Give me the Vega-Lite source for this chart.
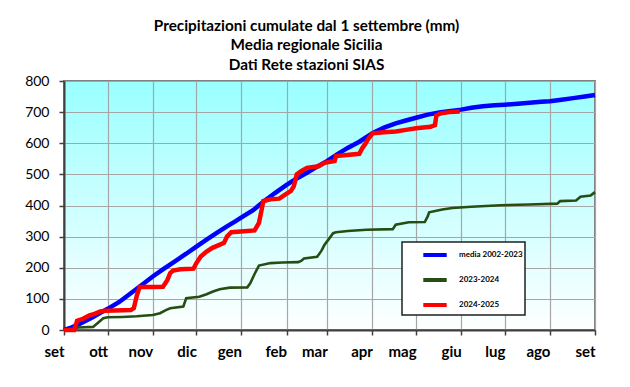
{
  "$schema": "https://vega.github.io/schema/vega-lite/v6.json",
  "width": 531,
  "height": 249,
  "autosize": "none",
  "padding": {"left": 64, "top": 81, "right": 35, "bottom": 57},
  "background": "white",
  "title": {
    "text": ["Precipitazioni cumulate dal 1 settembre (mm)", "Media regionale Sicilia", "Dati Rete stazioni SIAS"],
    "font": "Lato", "fontSize": 15.3, "fontWeight": "bold", "color": "black",
    "lineHeight": 19.5, "offset": 1, "dx": -23, "anchor": "middle"
  },
  "config": {
    "font": "Lato",
    "view": {
      "fill": {"gradient": "linear", "x1": 0, "y1": 0, "x2": 0, "y2": 1,
        "stops": [{"offset": 0, "color": "#99FFFF"}, {"offset": 1, "color": "#FFFFFF"}]},
      "stroke": "#808080", "strokeWidth": 2
    },
    "axis": {
      "gridColor": "#A6A6A6", "gridWidth": 1.2, "gridOpacity": 1,
      "domainColor": "#404040", "domainWidth": 2,
      "tickColor": "#404040", "tickWidth": 1.5, "tickSize": 5,
      "labelColor": "black", "title": null
    }
  },
  "data": {"values": [
    {"s": "media 2002-2023", "d": 0, "v": 0},
    {"s": "media 2002-2023", "d": 5, "v": 8},
    {"s": "media 2002-2023", "d": 10, "v": 18},
    {"s": "media 2002-2023", "d": 15, "v": 30},
    {"s": "media 2002-2023", "d": 20, "v": 42},
    {"s": "media 2002-2023", "d": 25, "v": 55},
    {"s": "media 2002-2023", "d": 30, "v": 68},
    {"s": "media 2002-2023", "d": 38, "v": 90},
    {"s": "media 2002-2023", "d": 45, "v": 115},
    {"s": "media 2002-2023", "d": 53, "v": 143},
    {"s": "media 2002-2023", "d": 61, "v": 172},
    {"s": "media 2002-2023", "d": 68, "v": 195},
    {"s": "media 2002-2023", "d": 76, "v": 220},
    {"s": "media 2002-2023", "d": 84, "v": 245},
    {"s": "media 2002-2023", "d": 91, "v": 268},
    {"s": "media 2002-2023", "d": 98, "v": 290},
    {"s": "media 2002-2023", "d": 105, "v": 312},
    {"s": "media 2002-2023", "d": 112, "v": 333},
    {"s": "media 2002-2023", "d": 118, "v": 350},
    {"s": "media 2002-2023", "d": 122, "v": 362},
    {"s": "media 2002-2023", "d": 130, "v": 385},
    {"s": "media 2002-2023", "d": 137, "v": 412},
    {"s": "media 2002-2023", "d": 145, "v": 440},
    {"s": "media 2002-2023", "d": 153, "v": 466},
    {"s": "media 2002-2023", "d": 160, "v": 487},
    {"s": "media 2002-2023", "d": 167, "v": 505},
    {"s": "media 2002-2023", "d": 174, "v": 525},
    {"s": "media 2002-2023", "d": 181, "v": 543},
    {"s": "media 2002-2023", "d": 188, "v": 565},
    {"s": "media 2002-2023", "d": 195, "v": 585},
    {"s": "media 2002-2023", "d": 203, "v": 605},
    {"s": "media 2002-2023", "d": 212, "v": 632},
    {"s": "media 2002-2023", "d": 220, "v": 650},
    {"s": "media 2002-2023", "d": 228, "v": 664},
    {"s": "media 2002-2023", "d": 235, "v": 673},
    {"s": "media 2002-2023", "d": 242, "v": 682},
    {"s": "media 2002-2023", "d": 250, "v": 692},
    {"s": "media 2002-2023", "d": 258, "v": 699},
    {"s": "media 2002-2023", "d": 266, "v": 704},
    {"s": "media 2002-2023", "d": 273, "v": 708},
    {"s": "media 2002-2023", "d": 280, "v": 714},
    {"s": "media 2002-2023", "d": 288, "v": 719},
    {"s": "media 2002-2023", "d": 296, "v": 722},
    {"s": "media 2002-2023", "d": 303, "v": 724},
    {"s": "media 2002-2023", "d": 312, "v": 727},
    {"s": "media 2002-2023", "d": 320, "v": 730},
    {"s": "media 2002-2023", "d": 328, "v": 733},
    {"s": "media 2002-2023", "d": 334, "v": 735},
    {"s": "media 2002-2023", "d": 342, "v": 740},
    {"s": "media 2002-2023", "d": 350, "v": 745},
    {"s": "media 2002-2023", "d": 358, "v": 750},
    {"s": "media 2002-2023", "d": 365, "v": 755},

    {"s": "2023-2024", "d": 0, "v": 0},
    {"s": "2023-2024", "d": 4, "v": 0},
    {"s": "2023-2024", "d": 6, "v": 5},
    {"s": "2023-2024", "d": 10, "v": 8},
    {"s": "2023-2024", "d": 20, "v": 10},
    {"s": "2023-2024", "d": 23, "v": 22},
    {"s": "2023-2024", "d": 27, "v": 38},
    {"s": "2023-2024", "d": 30, "v": 41},
    {"s": "2023-2024", "d": 40, "v": 42},
    {"s": "2023-2024", "d": 50, "v": 44},
    {"s": "2023-2024", "d": 61, "v": 48},
    {"s": "2023-2024", "d": 66, "v": 54},
    {"s": "2023-2024", "d": 70, "v": 64},
    {"s": "2023-2024", "d": 73, "v": 70},
    {"s": "2023-2024", "d": 82, "v": 75},
    {"s": "2023-2024", "d": 84, "v": 102},
    {"s": "2023-2024", "d": 93, "v": 107},
    {"s": "2023-2024", "d": 98, "v": 115},
    {"s": "2023-2024", "d": 102, "v": 123},
    {"s": "2023-2024", "d": 107, "v": 131},
    {"s": "2023-2024", "d": 114, "v": 136},
    {"s": "2023-2024", "d": 126, "v": 137},
    {"s": "2023-2024", "d": 128, "v": 150},
    {"s": "2023-2024", "d": 131, "v": 180},
    {"s": "2023-2024", "d": 134, "v": 207},
    {"s": "2023-2024", "d": 142, "v": 215},
    {"s": "2023-2024", "d": 150, "v": 217},
    {"s": "2023-2024", "d": 161, "v": 218},
    {"s": "2023-2024", "d": 163, "v": 222},
    {"s": "2023-2024", "d": 165, "v": 230},
    {"s": "2023-2024", "d": 174, "v": 235},
    {"s": "2023-2024", "d": 177, "v": 255},
    {"s": "2023-2024", "d": 179, "v": 273},
    {"s": "2023-2024", "d": 182, "v": 292},
    {"s": "2023-2024", "d": 185, "v": 311},
    {"s": "2023-2024", "d": 187, "v": 314},
    {"s": "2023-2024", "d": 195, "v": 318},
    {"s": "2023-2024", "d": 208, "v": 322},
    {"s": "2023-2024", "d": 226, "v": 324},
    {"s": "2023-2024", "d": 228, "v": 338},
    {"s": "2023-2024", "d": 237, "v": 346},
    {"s": "2023-2024", "d": 248, "v": 347},
    {"s": "2023-2024", "d": 250, "v": 365},
    {"s": "2023-2024", "d": 251, "v": 378},
    {"s": "2023-2024", "d": 260, "v": 387},
    {"s": "2023-2024", "d": 267, "v": 392},
    {"s": "2023-2024", "d": 280, "v": 396},
    {"s": "2023-2024", "d": 300, "v": 401},
    {"s": "2023-2024", "d": 320, "v": 403},
    {"s": "2023-2024", "d": 339, "v": 406},
    {"s": "2023-2024", "d": 341, "v": 414},
    {"s": "2023-2024", "d": 352, "v": 416},
    {"s": "2023-2024", "d": 355, "v": 428},
    {"s": "2023-2024", "d": 362, "v": 432},
    {"s": "2023-2024", "d": 365, "v": 443},

    {"s": "2024-2025", "d": 0, "v": 0},
    {"s": "2024-2025", "d": 7, "v": 0},
    {"s": "2024-2025", "d": 8, "v": 15},
    {"s": "2024-2025", "d": 9, "v": 30},
    {"s": "2024-2025", "d": 13, "v": 36},
    {"s": "2024-2025", "d": 17.5, "v": 47},
    {"s": "2024-2025", "d": 21, "v": 52},
    {"s": "2024-2025", "d": 25, "v": 60},
    {"s": "2024-2025", "d": 28, "v": 62},
    {"s": "2024-2025", "d": 35, "v": 63},
    {"s": "2024-2025", "d": 46, "v": 64},
    {"s": "2024-2025", "d": 48, "v": 70},
    {"s": "2024-2025", "d": 50, "v": 110},
    {"s": "2024-2025", "d": 52, "v": 138},
    {"s": "2024-2025", "d": 60, "v": 138},
    {"s": "2024-2025", "d": 68, "v": 139},
    {"s": "2024-2025", "d": 71, "v": 160},
    {"s": "2024-2025", "d": 73, "v": 183},
    {"s": "2024-2025", "d": 75, "v": 191},
    {"s": "2024-2025", "d": 80, "v": 195},
    {"s": "2024-2025", "d": 89, "v": 197},
    {"s": "2024-2025", "d": 91, "v": 215},
    {"s": "2024-2025", "d": 94, "v": 236},
    {"s": "2024-2025", "d": 98, "v": 252},
    {"s": "2024-2025", "d": 102, "v": 264},
    {"s": "2024-2025", "d": 106, "v": 272},
    {"s": "2024-2025", "d": 110, "v": 280},
    {"s": "2024-2025", "d": 112, "v": 300},
    {"s": "2024-2025", "d": 115, "v": 314},
    {"s": "2024-2025", "d": 131, "v": 320},
    {"s": "2024-2025", "d": 134, "v": 344},
    {"s": "2024-2025", "d": 136, "v": 390},
    {"s": "2024-2025", "d": 137, "v": 414},
    {"s": "2024-2025", "d": 142, "v": 420},
    {"s": "2024-2025", "d": 148, "v": 422},
    {"s": "2024-2025", "d": 152, "v": 435},
    {"s": "2024-2025", "d": 156, "v": 447},
    {"s": "2024-2025", "d": 158, "v": 462},
    {"s": "2024-2025", "d": 160, "v": 500},
    {"s": "2024-2025", "d": 163, "v": 510},
    {"s": "2024-2025", "d": 167, "v": 521},
    {"s": "2024-2025", "d": 175, "v": 526},
    {"s": "2024-2025", "d": 179, "v": 537},
    {"s": "2024-2025", "d": 186, "v": 543},
    {"s": "2024-2025", "d": 187, "v": 559},
    {"s": "2024-2025", "d": 203, "v": 566},
    {"s": "2024-2025", "d": 205, "v": 584},
    {"s": "2024-2025", "d": 207, "v": 597},
    {"s": "2024-2025", "d": 209, "v": 613},
    {"s": "2024-2025", "d": 212, "v": 632},
    {"s": "2024-2025", "d": 220, "v": 635},
    {"s": "2024-2025", "d": 228, "v": 638},
    {"s": "2024-2025", "d": 235, "v": 643},
    {"s": "2024-2025", "d": 242, "v": 648},
    {"s": "2024-2025", "d": 252, "v": 653},
    {"s": "2024-2025", "d": 255, "v": 658},
    {"s": "2024-2025", "d": 256, "v": 690},
    {"s": "2024-2025", "d": 259, "v": 696},
    {"s": "2024-2025", "d": 265, "v": 700},
    {"s": "2024-2025", "d": 272, "v": 702}
  ]},
  "encoding": {
    "x": {
      "field": "d", "type": "quantitative",
      "scale": {"domain": [0, 365], "nice": false, "zero": false},
      "axis": {
        "values": [0, 30, 61, 91, 122, 153, 181, 212, 242, 273, 303, 334, 365],
        "labelExpr": "['set','ott','nov','dic','gen','feb','mar','apr','mag','giu','lug','ago','set'][indexof([0,30,61,91,122,153,181,212,242,273,303,334,365], datum.value)]",
        "labelAlign": "right", "labelBaseline": "top", "labelPadding": 9,
        "labelFont": "Lato", "labelFontSize": 15, "labelFontWeight": "bold",
        "labelOverlap": false, "labelFlush": false, "labelBound": false
      }
    },
    "y": {
      "field": "v", "type": "quantitative",
      "scale": {"domain": [0, 800], "nice": false},
      "axis": {
        "values": [0, 100, 200, 300, 400, 500, 600, 700, 800],
        "labelFont": "Lato", "labelFontSize": 14, "labelPadding": 10,
        "labelOverlap": false, "labelFlush": false, "labelBound": false
      }
    },
    "color": {
      "field": "s", "type": "nominal",
      "scale": {"domain": ["media 2002-2023", "2023-2024", "2024-2025"], "range": ["#0000FF", "#264D12", "#FF0000"]},
      "legend": {
        "title": null, "orient": "none", "legendX": 338, "legendY": 161,
        "symbolType": "M-1.3,0H1.3", "symbolSize": 324, "symbolStrokeWidth": 4,
        "symbolOffset": 20, "labelOffset": 13,
        "labelFont": "Lato", "labelFontSize": 8, "labelFontWeight": "bold", "labelColor": "black",
        "labelExpr": "datum.label + '\u00a0\u00a0\u00a0\u00a0\u00a0\u00a0\u00a0\u00a0\u00a0\u00a0\u00a0\u00a0\u00a0\u00a0\u00a0\u00a0\u00a0'",
        "padding": 2, "rowPadding": 6,
        "fillColor": "white", "strokeColor": "#202020",
        "encode": {"legend": {"update": {"strokeWidth": {"value": 1.5}}}}
      }
    }
  },
  "layer": [
    {"transform": [{"filter": "datum.s === 'media 2002-2023'"}], "mark": {"type": "line", "strokeWidth": 4.5}},
    {"transform": [{"filter": "datum.s === '2023-2024'"}], "mark": {"type": "line", "strokeWidth": 2.6}},
    {"transform": [{"filter": "datum.s === '2024-2025'"}], "mark": {"type": "line", "strokeWidth": 4.5}}
  ]
}
